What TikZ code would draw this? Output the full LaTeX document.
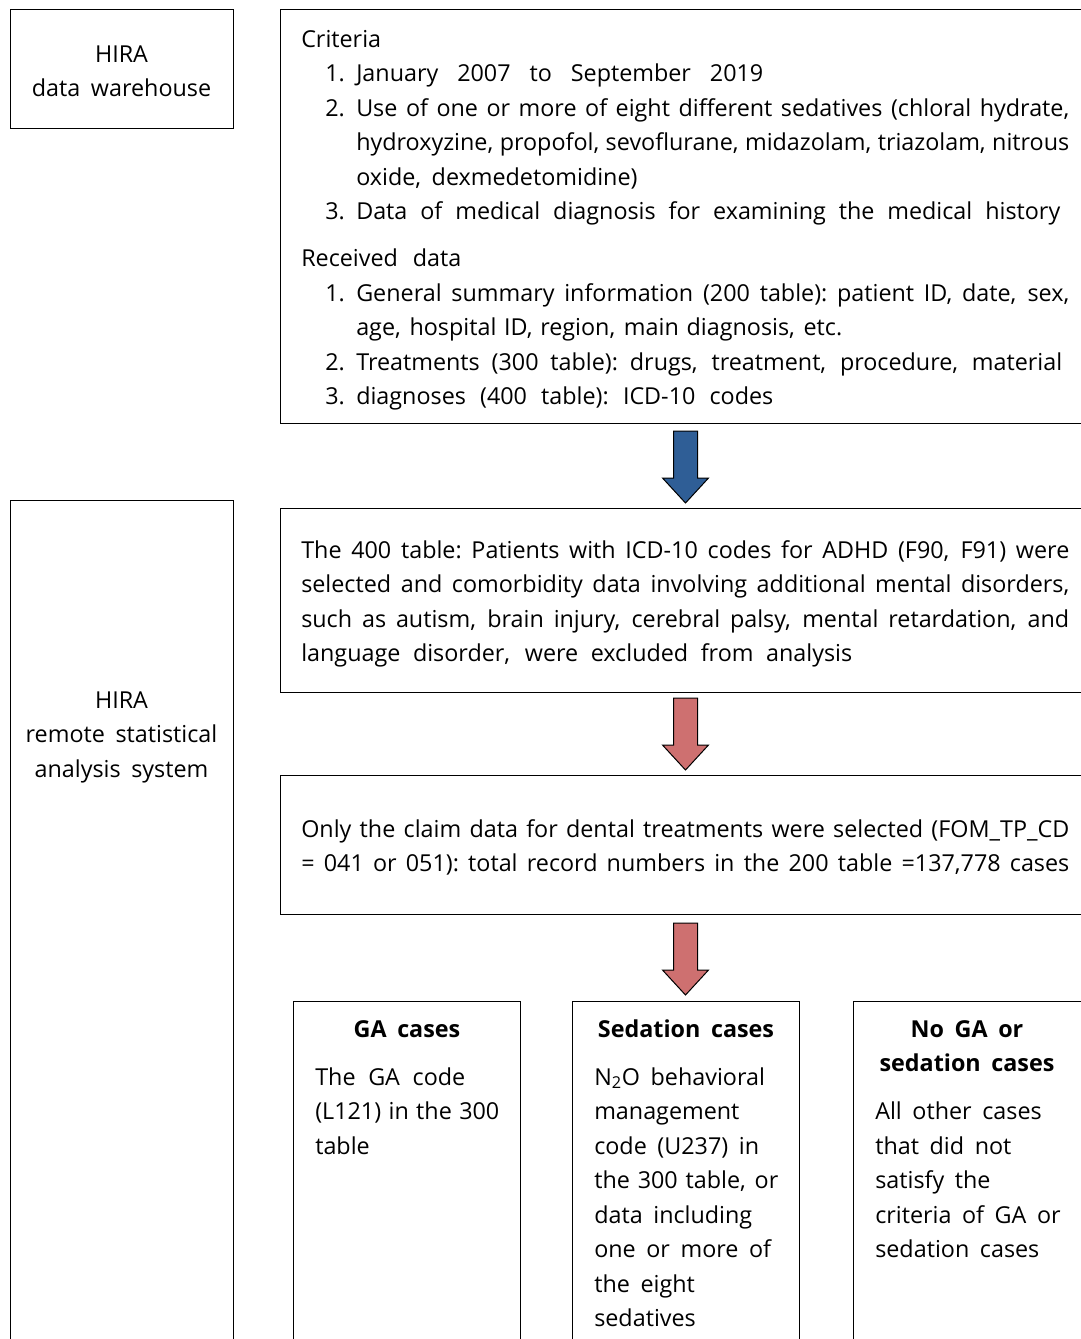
\documentclass[tikz,border=0pt]{standalone}
\usepackage{fontspec}
\setmainfont{Open Sans}[WordSpace={1.75}]
\newdimen\px \px=0.75pt
\definecolor{arrblue}{RGB}{47,94,150}
\definecolor{arrred}{RGB}{206,112,112}
\newcommand\txtfont{\fontsize{17.5pt}{25.875pt}\selectfont}
% stretched line of given width with equal gaps
\newcommand\stretchline[2]{\makebox[#1][s]{\spaceskip=4\px plus 1fil\relax\xspaceskip=4\px plus 1fil\relax #2}}
% text block: width, content (first baseline = node base)
\newcommand\tb[2]{\begin{minipage}[t]{#1}\txtfont\parindent0pt\parskip0pt #2\end{minipage}}
\newcommand\jline[1]{\par\noindent\stretchline{\linewidth}{#1}}
\newcommand\wline[2]{\par\noindent\stretchline{#1\px}{#2}}
\newcommand\pline[1]{\par\noindent #1}
\newcommand\itm[2]{\par\noindent\hspace*{24\px}\makebox[31\px][l]{#1}#2}
\newcommand\itmw[3]{\par\noindent\hspace*{24\px}\makebox[31\px][l]{#1}\stretchline{#2\px}{#3}}
\newcommand\cont[1]{\par\noindent\hspace*{55\px}#1}
\newcommand\contw[2]{\par\noindent\hspace*{55\px}\stretchline{#1\px}{#2}}
\newcommand\blockarrow[2]{%
  \filldraw[fill=#2, draw=black, line width=1\px]
    (673.5,#1) -- (697.5,#1) -- (697.5,#1+47) -- (708.5,#1+47) -- (685.5,#1+72)
    -- (662.5,#1+47) -- (673.5,#1+47) -- cycle;}
\begin{document}
\begin{tikzpicture}[x=0.75pt,y=-0.75pt,
  box/.style={draw=black, line width=1.3\px, inner sep=0pt, anchor=north west},
  txt/.style={inner sep=0pt, anchor=base west},
  ctxt/.style={inner sep=0pt, anchor=base}]
\useasboundingbox (0,0) rectangle (1081,1339);
\clip (0,0) rectangle (1081,1339);
\fill[white] (0,0) rectangle (1081,1339);

% boxes
\node[box, minimum width=223\px, minimum height=119\px] (wh) at (10,9) {};
\node[box, minimum width=820\px, minimum height=414\px] (crit) at (280,9) {};
\node[box, minimum width=223\px, minimum height=900\px] (ras) at (10,500) {};
\node[box, minimum width=820\px, minimum height=184\px] (sel) at (280,508) {};
\node[box, minimum width=820\px, minimum height=139\px] (dent) at (280,775) {};
\node[box, minimum width=227\px, minimum height=400\px] (ga) at (293,1001) {};
\node[box, minimum width=227\px, minimum height=400\px] (sed) at (572,1001) {};
\node[box, minimum width=260\px, minimum height=400\px] (nog) at (853,1001) {};

% arrows
\blockarrow{431}{arrblue}
\blockarrow{698}{arrred}
\blockarrow{923}{arrred}

% left texts
\node[ctxt] (t-wh) at (121.5,62) {\tb{210\px}{\centering HIRA\par data warehouse\par}};
\node[ctxt] (t-ras) at (121.5,708) {\tb{210\px}{\centering HIRA\par remote statistical\par analysis system\par}};

% criteria box
\node[txt] (t-crit) at (301,47) {\tb{768\px}{%
  \pline{Criteria}
  \itmw{1.}{407}{January 2007 to September 2019}
  \itmw{2.}{713}{Use of one or more of eight different sedatives (chloral hydrate,}
  \contw{713}{hydroxyzine, propofol, sevoflurane, midazolam, triazolam, nitrous}
  \cont{oxide, dexmedetomidine)}
  \itmw{3.}{704}{Data of medical diagnosis for examining the medical history}
  \par\vspace{12.5\px}
  \wline{160}{Received data}
  \itmw{1.}{713}{General summary information (200 table): patient ID, date, sex,}
  \contw{486}{age, hospital ID, region, main diagnosis, etc.}
  \itmw{2.}{706}{Treatments (300 table): drugs, treatment, procedure, material}
  \itmw{3.}{417}{diagnoses (400 table): ICD-10 codes}\par}};

% selection box
\node[txt] (t-sel) at (301,558) {\tb{768\px}{%
  \jline{The 400 table: Patients with ICD-10 codes for ADHD (F90, F91) were}
  \jline{selected and comorbidity data involving additional mental disorders,}
  \jline{such as autism, brain injury, cerebral palsy, mental retardation, and}
  \wline{551}{language disorder, were excluded from analysis}\par}};

% dental box
\node[txt] (t-dent) at (301,837) {\tb{768\px}{%
  \jline{Only the claim data for dental treatments were selected (FOM\_TP\_CD}
  \jline{= 041 or 051): total record numbers in the 200 table =137,778 cases}\par}};

% bottom boxes
\node[ctxt] (h-ga) at (407,1037) {\txtfont\bfseries GA cases};
\node[txt] (t-ga) at (315,1085) {\tb{200\px}{%
  \wline{150}{The GA code}
  \wline{184}{(L121) in the 300}
  \pline{table}\par}};

\node[ctxt] (h-sed) at (686,1037) {\txtfont\bfseries Sedation cases};
\node[txt] (t-sed) at (594,1085) {\tb{200\px}{%
  \pline{N\textsubscript{2}O behavioral}
  \pline{management}
  \pline{code (U237) in}
  \wline{184}{the 300 table, or}
  \pline{data including}
  \pline{one or more of}
  \pline{the eight}
  \pline{sedatives}\par}};

\node[ctxt] (h-nog) at (967,1037) {\tb{220\px}{\centering\bfseries No GA or\par sedation cases\par}};
\node[txt] (t-nog) at (875,1119.5) {\tb{200\px}{%
  \pline{All other cases}
  \pline{that did not}
  \pline{satisfy the}
  \pline{criteria of GA or}
  \pline{sedation cases}\par}};
\end{tikzpicture}
\end{document}
